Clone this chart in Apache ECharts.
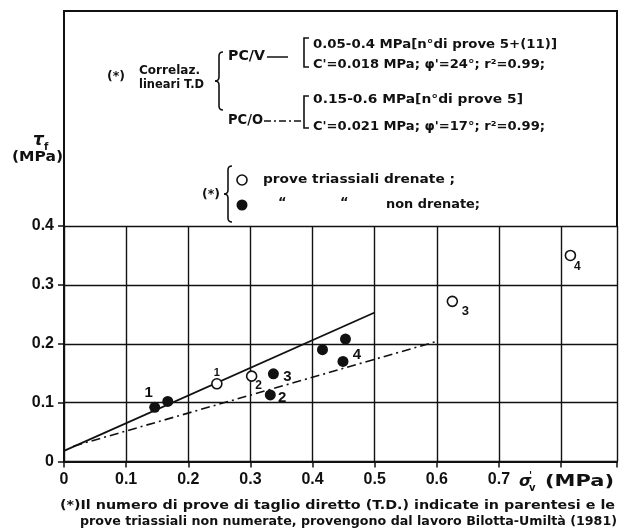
<!DOCTYPE html>
<html>
<head>
<meta charset="utf-8">
<script src="https://cdn.jsdelivr.net/npm/echarts@6/dist/echarts.min.js"></script>
<style>
html, body { margin: 0; padding: 0; background: #fff; }
#chart { width: 620px; height: 532px; }
</style>
</head>
<body>
<div id="chart"></div>
<script>
// Shear strength tau_f against effective normal stress sigma'_v (MPa)

// axis ticks
const xTicks = [0, 0.1, 0.2, 0.3, 0.4, 0.5, 0.6, 0.7];
const yTicks = [0, 0.1, 0.2, 0.3, 0.4];

// drained triaxial tests (open circles) and their numbers
const drainedPoints = [[0.246, 0.132], [0.302, 0.145], [0.625, 0.272], [0.815, 0.350]];
const drainedLabels = ['1', '2', '3', '4'];

// undrained triaxial tests (filled circles) and their numbers
const undrainedPoints = [[0.146, 0.092], [0.167, 0.102], [0.337, 0.149], [0.332, 0.113],
                         [0.416, 0.190], [0.453, 0.208], [0.449, 0.170]];
const undrainedLabels = ['1', '', '3', '2', '', '', '4'];

// linear fits of the direct shear tests (T.D.)
const pcvFit = [[0, 0.018], [0.5, 0.253]];
const pcoFit = [[0.015, 0.026], [0.6, 0.204]];

// placement of the point numbers relative to each marker
const drainedLabelOffsets = [[0, -11], [7, 10], [13, 10], [7, 11]];
const drainedLabelSizes = [11, 12, 13, 12];
const undrainedLabelOffsets = [[-6, -14], [0, 0], [14, 3], [12, 3], [0, 0], [0, 0], [14, -7]];

const INK = '#111';
const G = { left: 64, right: 3, top: 226, bottom: 70.5 };
const W = 620, H = 532;
const plotRight = W - G.right;
const frameTop = 11;

const measureCtx = document.createElement('canvas').getContext('2d');
function fitText(text, x, y, width, font) {
  measureCtx.font = font;
  const w = measureCtx.measureText(text).width;
  return {
    type: 'text', x: x, y: y, scaleX: width / w, z: 10,
    style: { text: text, font: font, fill: INK, align: 'left', verticalAlign: 'middle' }
  };
}
function plainText(text, x, y, font, align) {
  return {
    type: 'text', x: x, y: y, z: 10,
    style: { text: text, font: font, fill: INK, align: align || 'left', verticalAlign: 'middle' }
  };
}
function stroke(lw, dash) {
  const s = { stroke: INK, lineWidth: lw, fill: null };
  if (dash) s.lineDash = dash;
  return s;
}
function brace(cx, y1, y2, w) {
  const ym = (y1 + y2) / 2;
  return [
    { type: 'bezierCurve', shape: { x1: cx + w, y1: y1, cpx1: cx, cpy1: y1, x2: cx, y2: y1 + w }, style: stroke(1.6) },
    { type: 'line', shape: { x1: cx, y1: y1 + w, x2: cx, y2: ym - w }, style: stroke(1.6) },
    { type: 'bezierCurve', shape: { x1: cx, y1: ym - w, cpx1: cx, cpy1: ym, x2: cx - w, y2: ym }, style: stroke(1.6) },
    { type: 'bezierCurve', shape: { x1: cx - w, y1: ym, cpx1: cx, cpy1: ym, x2: cx, y2: ym + w }, style: stroke(1.6) },
    { type: 'line', shape: { x1: cx, y1: ym + w, x2: cx, y2: y2 - w }, style: stroke(1.6) },
    { type: 'bezierCurve', shape: { x1: cx, y1: y2 - w, cpx1: cx, cpy1: y2, x2: cx + w, y2: y2 }, style: stroke(1.6) }
  ];
}
function bracket(x, y1, y2) {
  return { type: 'polyline', shape: { points: [[x + 5, y1], [x, y1], [x, y2], [x + 5, y2]] }, style: stroke(1.6) };
}

const F_SANS = '"DejaVu Sans"';

const graphics = [].concat(
  // upper part of the frame
  [{ type: 'polyline', shape: { points: [[G.left, G.top], [G.left, frameTop], [plotRight, frameTop], [plotRight, G.top]] },
     style: stroke(2) }],
  // correlation notes
  [
    fitText('(*)', 107, 77, 18, 'bold 13px ' + F_SANS),
    fitText('Correlaz.', 139, 71, 61, 'bold 13px ' + F_SANS),
    fitText('lineari T.D', 139, 85, 65, 'bold 13px ' + F_SANS),
    fitText('PC/V', 228, 56, 37, 'bold 14px ' + F_SANS),
    { type: 'line', shape: { x1: 267, y1: 57, x2: 288, y2: 57 }, style: stroke(1.5) },
    fitText('PC/O', 228, 120, 35, 'bold 14px ' + F_SANS),
    { type: 'line', shape: { x1: 264, y1: 121, x2: 301, y2: 121 }, style: stroke(1.5, [7, 3, 2, 3]) },
    bracket(304, 38, 67),
    bracket(304, 96, 128),
    fitText('0.05-0.4 MPa[n°di prove 5+(11)]', 313, 45, 244, 'bold 13px ' + F_SANS),
    fitText("C'=0.018 MPa; φ'=24°; r²=0.99;", 313, 65, 232, 'bold 13px ' + F_SANS),
    fitText('0.15-0.6 MPa[n°di prove 5]', 313, 100, 210, 'bold 13px ' + F_SANS),
    fitText("C'=0.021 MPa; φ'=17°; r²=0.99;", 313, 127, 232, 'bold 13px ' + F_SANS)
  ],
  brace(219, 52, 110, 4),
  // key to the symbols
  [
    fitText('(*)', 202, 195, 18, 'bold 13px ' + F_SANS),
    { type: 'circle', shape: { cx: 242, cy: 180, r: 5 }, style: { stroke: INK, lineWidth: 1.6, fill: '#fff' } },
    { type: 'circle', shape: { cx: 242, cy: 205, r: 5.5 }, style: { fill: INK } },
    fitText('prove triassiali drenate ;', 263, 180, 192, 'bold 13px ' + F_SANS),
    plainText('“', 278, 203, 'bold 13px ' + F_SANS),
    plainText('“', 340, 203, 'bold 13px ' + F_SANS),
    fitText('non drenate;', 386, 205, 94, 'bold 13px ' + F_SANS)
  ],
  brace(228, 166, 222, 4),
  // axis titles
  [
    plainText('τ', 33, 141, 'italic bold 17px ' + F_SANS),
    plainText('f', 44, 147, 'bold 10px ' + F_SANS),
    fitText('(MPa)', 12, 157, 51, 'bold 14px ' + F_SANS),
    plainText('σ', 519, 482, 'italic bold 16px ' + F_SANS),
    plainText("'", 529, 476, 'bold 10px ' + F_SANS),
    plainText('v', 529, 488, 'bold 10px ' + F_SANS),
    fitText('(MPa)', 545, 482, 69, 'bold 15px ' + F_SANS)
  ],
  // footnote
  [
    fitText('(*)Il numero di prove di taglio diretto (T.D.) indicate in parentesi e le', 60, 506, 555, 'bold 12px ' + F_SANS),
    fitText('prove triassiali non numerate, provengono dal lavoro Bilotta-Umiltà (1981)', 80, 522, 537, 'bold 12px ' + F_SANS)
  ]
);

function tickText(v, list) {
  const r = Math.round(v * 10) / 10;
  if (!list.some(function (t) { return Math.abs(t - r) < 1e-9; }) || Math.abs(v - r) > 1e-6) return '';
  return r === 0 ? '0' : r.toFixed(1);
}

const pointLabel = { show: true, position: 'inside', color: INK, opacity: 1, fontWeight: 'bold', fontFamily: 'Liberation Sans' };

const option = {
  animation: false,
  backgroundColor: '#fff',
  grid: { left: G.left, right: G.right, top: G.top, bottom: G.bottom, containLabel: false },
  xAxis: {
    type: 'value', min: 0, max: 0.89, interval: 0.1,
    axisLine: { onZero: false, lineStyle: { color: INK, width: 2 } },
    axisTick: { show: true, length: 6, lineStyle: { color: INK, width: 1.5 } },
    axisLabel: {
      color: INK, fontSize: 16, fontWeight: 'bold', fontFamily: 'Liberation Sans', margin: 10,
      formatter: function (v) { return tickText(v, xTicks); }
    },
    splitLine: { show: true, lineStyle: { color: INK, width: 1.4 } }
  },
  yAxis: {
    type: 'value', min: 0, max: 0.4, interval: 0.1,
    axisLine: { show: true, lineStyle: { color: INK, width: 2 } },
    axisTick: { show: true, length: 6, lineStyle: { color: INK, width: 1.5 } },
    axisLabel: {
      color: INK, fontSize: 16, fontWeight: 'bold', fontFamily: 'Liberation Sans', margin: 10,
      formatter: function (v) { return tickText(v, yTicks); }
    },
    splitLine: { show: true, lineStyle: { color: INK, width: 1.4 } }
  },
  series: [
    {
      name: 'PC/V', type: 'line', data: pcvFit, symbol: 'none', silent: true, z: 2,
      lineStyle: { color: INK, width: 1.8, type: 'solid' }
    },
    {
      name: 'PC/O', type: 'line', data: pcoFit, symbol: 'none', silent: true, z: 2,
      lineStyle: { color: INK, width: 1.6, type: [9, 4, 2, 4] }
    },
    {
      name: 'prove triassiali drenate', type: 'scatter', z: 4, symbol: 'circle', symbolSize: 10,
      itemStyle: { color: '#fff', borderColor: INK, borderWidth: 1.6, opacity: 1 },
      data: drainedPoints.map(function (p, i) {
        return {
          value: p,
          label: Object.assign({}, pointLabel, {
            formatter: drainedLabels[i], offset: drainedLabelOffsets[i], fontSize: drainedLabelSizes[i]
          })
        };
      })
    },
    {
      name: 'prove triassiali non drenate', type: 'scatter', z: 5, symbol: 'circle', symbolSize: 11,
      itemStyle: { color: INK, opacity: 1 },
      data: undrainedPoints.map(function (p, i) {
        return {
          value: p,
          label: Object.assign({}, pointLabel, {
            show: undrainedLabels[i] !== '', formatter: undrainedLabels[i] || '',
            offset: undrainedLabelOffsets[i], fontSize: 15
          })
        };
      })
    }
  ],
  graphic: graphics
};

const chart = echarts.init(document.getElementById('chart'), null, { renderer: 'canvas' });
chart.setOption(option);
</script>
</body>
</html>
